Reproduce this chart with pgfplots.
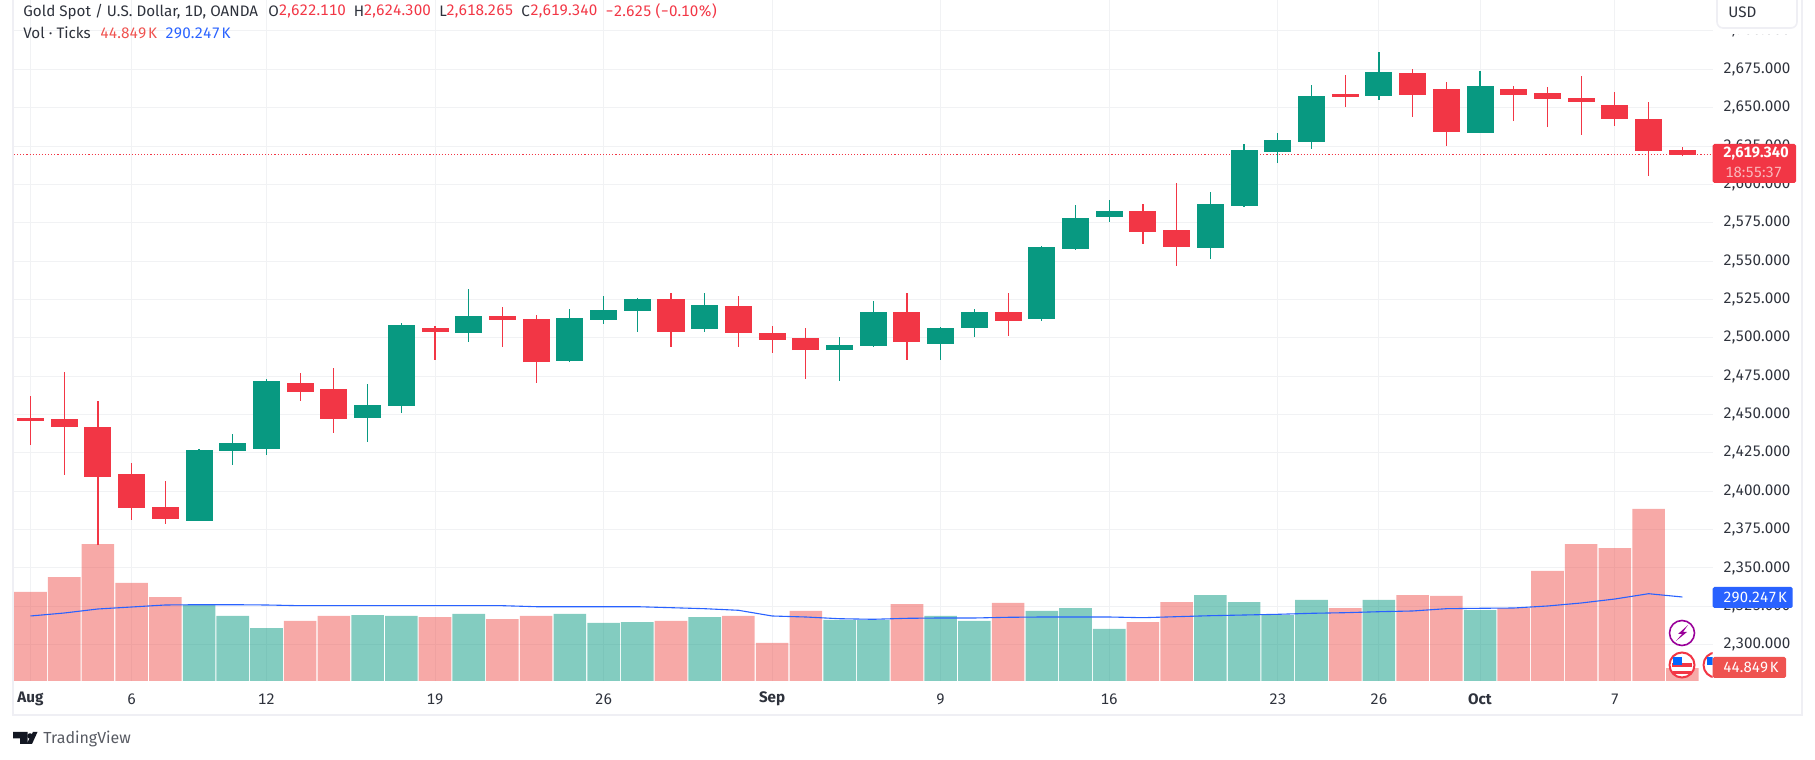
\documentclass[border=0pt]{standalone}
\usepackage{fontspec}
\setmainfont[Numbers={Lining,Monospaced}]{Fira Sans}
\usepackage{pgfplots}
\usepackage{pgfplotstable}
\pgfplotsset{compat=1.18}

\definecolor{upc}{HTML}{089981}
\definecolor{dnc}{HTML}{F23645}
\definecolor{volup}{HTML}{089981}
\definecolor{voldn}{HTML}{EF5350}
\definecolor{maline}{HTML}{2962FF}
\definecolor{gridc}{HTML}{F1F2F4}
\definecolor{framec}{HTML}{EFEFF4}
\definecolor{ink}{HTML}{2E323C}
\definecolor{logoc}{HTML}{131722}

% x o h l c v (volume in thousands)
\pgfplotstableread{
x o h l c v
5 2380.63 2427.55 2380.63 2426.89 262.6
6 2426.24 2437.33 2417.12 2431.46 224.6
7 2427.55 2473.16 2423.64 2471.86 183.1
10 2447.75 2469.91 2432.11 2456.22 228.0
11 2455.57 2509.66 2451.00 2508.36 224.6
13 2503.15 2531.82 2497.28 2514.22 231.5
16 2484.90 2518.79 2484.24 2512.92 231.5
17 2511.62 2527.26 2509.01 2518.13 200.4
18 2517.48 2525.99 2503.80 2525.34 203.8
20 2505.75 2529.21 2503.80 2521.39 221.1
24 2492.06 2500.54 2471.86 2495.32 210.8
25 2494.67 2524.00 2494.02 2516.83 210.8
27 2496.00 2507.05 2485.55 2506.40 224.6
28 2506.40 2518.79 2500.54 2516.83 207.3
30 2512.27 2559.84 2510.97 2559.19 241.9
31 2557.89 2586.56 2557.24 2578.09 252.2
32 2578.74 2589.82 2575.48 2582.65 179.7
35 2558.54 2595.03 2551.36 2587.21 297.1
36 2585.91 2626.32 2585.26 2622.40 272.9
37 2621.10 2633.48 2613.93 2628.92 228.0
38 2627.62 2664.77 2623.06 2657.60 279.9
40 2657.60 2686.27 2654.99 2673.24 279.9
43 2633.48 2673.89 2633.48 2664.11 245.3
}\upbars

\pgfplotstableread{
x o h l c v
0 2447.75 2462.09 2430.15 2445.80 307.5
1 2447.10 2477.73 2410.60 2441.89 359.3
2 2441.89 2458.83 2364.99 2409.30 473.3
3 2411.25 2418.43 2381.28 2389.10 338.6
4 2389.74 2406.69 2378.67 2381.93 290.2
8 2470.56 2477.08 2458.83 2464.69 207.3
9 2466.65 2480.33 2437.98 2447.10 224.6
12 2506.40 2507.71 2485.55 2503.80 221.1
14 2514.22 2520.09 2494.02 2511.62 214.2
15 2512.27 2514.87 2470.56 2484.24 224.6
19 2525.34 2529.21 2494.02 2503.80 207.3
21 2520.74 2527.26 2494.02 2503.15 224.6
22 2503.15 2507.71 2490.11 2498.58 131.3
23 2499.91 2506.40 2473.16 2492.06 241.9
26 2516.83 2529.21 2485.55 2497.28 266.0
29 2516.83 2529.21 2501.19 2510.97 269.5
33 2582.65 2587.21 2561.15 2568.97 203.8
34 2570.27 2600.90 2546.81 2559.19 272.9
39 2658.90 2671.28 2650.43 2656.95 252.2
41 2672.59 2675.19 2643.91 2658.25 297.1
42 2662.16 2666.72 2625.01 2634.14 293.7
44 2662.16 2664.11 2641.30 2658.25 252.2
45 2659.55 2663.46 2637.39 2655.64 380.1
46 2656.29 2670.63 2632.18 2653.69 473.3
47 2651.73 2660.20 2638.05 2642.61 459.5
48 2642.61 2653.69 2605.46 2621.75 594.3
49 2622.11 2624.30 2618.27 2619.34 44.849
}\dnbars

\pgfplotstableread{
x ma
0 224.6
1 234.9
2 248.8
3 255.7
4 262.6
5 263.6
6 263.6
7 262.6
8 260.2
9 260.2
10 260.2
11 260.2
12 260.2
13 260.2
14 260.2
15 256.7
16 256.7
17 256.7
18 256.7
19 253.3
20 249.8
21 244.3
22 224.6
23 221.1
24 215.2
25 213.2
26 216.6
27 217.7
28 217.7
29 220.1
30 221.1
31 221.1
32 221.1
33 218.7
34 222.2
35 225.6
36 228.0
37 230.4
38 233.9
39 236.0
40 239.4
41 241.9
42 249.8
43 251.2
44 252.2
45 259.1
46 269.5
47 283.3
48 301.6
49 290.247
}\volma

\pgfplotsset{
  tvbase/.style={
    at={(7pt,39.5pt)}, anchor=south west,
    scale only axis, width=849.35pt, height=340.5pt,
    xmin=-0.4895, xmax=49.902,
  },
  candle/.style 2 args={draw=none, mark=none, forget plot, error bars/.cd, y dir=plus, y explicit, error mark=none,
    error bar style={line width=#2, draw=#1}},
}

\newcommand\lab{\fontsize{7.6}{9}\selectfont}
\newcommand\tag{\fontsize{7.4}{9}\selectfont}
\newcommand\K{\kern0.1em K}

\begin{document}
\begin{tikzpicture}
\path[use as bounding box] (0,0) rectangle (907.5pt,380pt);

% grid, price scale, date scale
\begin{axis}[tvbase,
    ymin=2276.35, ymax=2720.16,
    ytick={2300,2325,...,2700},
    xtick={0,3,7,12,17,22,27,32,37,40,43,47},
    xticklabels={\textbf{Aug},6,12,19,26,\textbf{Sep},9,16,23,26,\textbf{Oct},7},
    grid=major, grid style={gridc, line width=0.5pt},
    axis line style={draw=none},
    major tick length=0pt,
    yticklabel pos=right, xticklabel pos=bottom,
    tick label style={font=\lab, text=ink},
    yticklabel style={anchor=west, inner sep=0pt, xshift=5.15pt,
      /pgf/number format/.cd, fixed, fixed zerofill, precision=3, 1000 sep={,}, assume math mode=true},
    xticklabel style={anchor=center, yshift=-9pt},
  ]
  \addplot[dnc, line width=0.55pt, dash pattern=on 0.55pt off 1pt, forget plot]
    coordinates {(-0.4895,2619.34) (49.902,2619.34)};
\end{axis}

% volume pane
\begin{axis}[tvbase, hide axis, ymin=0, ymax=2352.9]
  \addplot[ybar, bar width=16.3pt, bar shift=0pt, draw=none, fill=volup, fill opacity=0.5] table[x=x, y=v] {\upbars};
  \addplot[ybar, bar width=16.3pt, bar shift=0pt, draw=none, fill=voldn, fill opacity=0.5] table[x=x, y=v] {\dnbars};
  \addplot[maline, line width=0.55pt, line join=round] table[x=x, y=ma] {\volma};
\end{axis}

% candles: wick from low to high, body from open to close
\begin{axis}[tvbase, hide axis, ymin=2276.35, ymax=2720.16]
  \addplot[candle={upc}{0.6pt}] table[x=x, y=l, y error expr=\thisrow{h}-\thisrow{l}] {\upbars};
  \addplot[candle={upc}{13.5pt}] table[x=x, y=o, y error expr=\thisrow{c}-\thisrow{o}] {\upbars};
  \addplot[candle={dnc}{0.6pt}] table[x=x, y=l, y error expr=\thisrow{h}-\thisrow{l}] {\dnbars};
  \addplot[candle={dnc}{13.5pt}] table[x=x, y=c, y error expr=\thisrow{o}-\thisrow{c}] {\dnbars};
\end{axis}

% everything below is in image pixels, y downwards
\begin{scope}[x=0.5pt, y=-0.5pt, yshift=380pt, every node/.style={font=\lab, inner sep=0pt}]
  % frame
  \draw[framec, line width=1pt] (13,0) -- (13,715.5) -- (1801.5,715.5) -- (1801.5,0);

  % event icons
  \begin{scope}
    \clip (1660,620) rectangle (1712.7,690);
    \draw[fill=white, draw=dnc, line width=1pt] (1682,665) circle (12.5);
    \draw[fill=white, draw=dnc, line width=1pt] (1716,665) circle (12.5);
    \fill[dnc] (1672,663) rectangle (1692,667);
    \fill[dnc] (1673,671) rectangle (1691,674);
    \fill[blue!60!cyan] (1673,657) rectangle (1682,665);
    \fill[blue!60!cyan] (1707,657) rectangle (1716,665);
  \end{scope}
  \draw[fill=white, draw=violet!80!magenta, line width=0.8pt] (1682,633) circle (12.5);
  \fill[violet!80!magenta] (1688,625) -- (1678,634) -- (1682,634) -- (1676,641) -- (1687,632) -- (1683,632) -- cycle;

  % price tags
  \fill[dnc, rounded corners=0.8pt] (1712.7,144) rectangle (1796,183);
  \node[anchor=west, text=white, font=\tag\bfseries] at (1723,154) {2,619.340};
  \node[anchor=west, text=white!65!dnc, font=\tag] at (1725,172) {18:55:37};
  \fill[maline, rounded corners=0.8pt] (1712.7,587) rectangle (1792.7,608);
  \node[anchor=west, text=white, font=\tag] at (1723,597.5) {290.247\K};
  \fill[voldn, rounded corners=0.8pt] (1712.7,657) rectangle (1786,678);
  \node[anchor=west, text=white, font=\tag] at (1723,667.5) {44.849\K};

  % currency box, hides the 2,700 label as in the original
  \fill[white] (1713,28) rectangle (1797,34.5);
  \draw[framec, fill=white, line width=0.8pt, rounded corners=3pt] (1717,-10) rectangle (1797,28);
  \node[anchor=west, text=ink] at (1728,12) {USD};

  % legend lines
  \node[anchor=west, text=ink] at (23,11.5) {Gold Spot / U.S. Dollar, 1D, OANDA};
  \node[anchor=west, text=ink] at (268,11.5) {O};
  \node[anchor=west, text=dnc] at (278.5,11.5) {2,622.110};
  \node[anchor=west, text=ink] at (353.5,11.5) {H};
  \node[anchor=west, text=dnc] at (363.5,11.5) {2,624.300};
  \node[anchor=west, text=ink] at (439,11.5) {L};
  \node[anchor=west, text=dnc] at (446,11.5) {2,618.265};
  \node[anchor=west, text=ink] at (521,11.5) {C};
  \node[anchor=west, text=dnc] at (530,11.5) {2,619.340};
  \node[anchor=west, text=dnc] at (605,11.5) {−2.625 (−0.10\%)};
  \node[anchor=west, text=ink] at (23,33) {Vol · Ticks};
  \node[anchor=west, text=voldn] at (100,33) {44.849\K};
  \node[anchor=west, text=maline] at (165,33) {290.247\K};

  % TradingView mark
  \fill[logoc] (13,732) -- (27.5,732) -- (27.5,744) -- (20,744) -- (20,738.5) -- (13,738.5) -- cycle;
  \fill[logoc] (30,736) circle (2.8);
  \fill[logoc] (33,732) -- (37.5,732) -- (32,744) -- (26.5,744) -- cycle;
  \node[anchor=base west, text=ink!80, font=\fontsize{8}{9}\selectfont] at (43,744) {TradingView};
\end{scope}
\end{tikzpicture}
\end{document}
